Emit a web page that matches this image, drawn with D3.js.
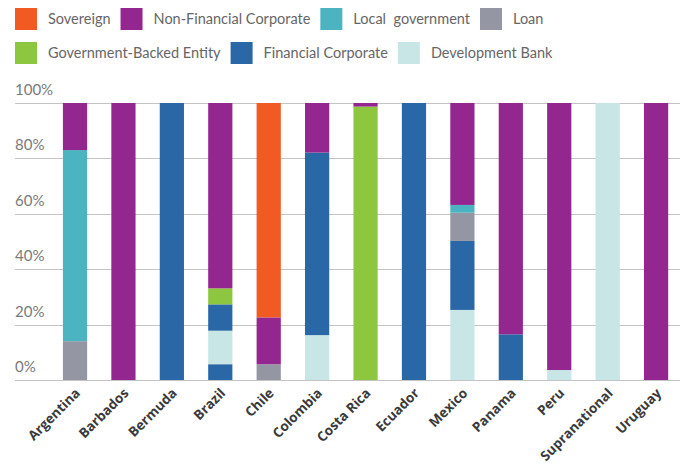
<!DOCTYPE html>
<html>
<head>
<meta charset="utf-8">
<script src="https://cdn.jsdelivr.net/npm/d3@7"></script>
<style>
  body { margin: 0; background: #fff; }
  svg { display: block; font-family: Lato, "Open Sans", sans-serif; }
</style>
</head>
<body>
<script>
// categories and stacked shares (%)
var countries = ["Argentina", "Barbados", "Bermuda", "Brazil", "Chile", "Colombia", "Costa Rica",
    "Ecuador", "Mexico", "Panama", "Peru", "Supranational", "Uruguay"];

var financialCorporateLower = [0, 0, 0, 5.7, 0, 0, 0, 0, 0, 0, 0, 0, 0];
var developmentBank = [0, 0, 0, 12.1, 0, 16.2, 0, 0, 25.3, 0, 3.6, 100, 0];
var financialCorporate = [0, 0, 100, 9.5, 0, 65.9, 0, 100, 24.9, 16.5, 0, 0, 0];
var loan = [14, 0, 0, 0, 5.7, 0, 0, 0, 10.2, 0, 0, 0, 0];
var localGovernment = [69, 0, 0, 0, 0, 0, 0, 0, 2.8, 0, 0, 0, 0];
var governmentBacked = [0, 0, 0, 5.8, 0, 0, 98.7, 0, 0, 0, 0, 0, 0];
var nonFinancialCorporate = [17, 100, 0, 66.9, 16.9, 17.9, 1.3, 0, 36.8, 83.5, 96.4, 0, 100];
var sovereign = [0, 0, 0, 0, 77.4, 0, 0, 0, 0, 0, 0, 0, 0];

var yTicks = [0, 20, 40, 60, 80, 100];

var legendRows = [
    ["Sovereign", "Non-Financial Corporate", "Local  government", "Loan"],
    ["Government-Backed Entity", "Financial Corporate", "Development Bank"]
];

function main() {
    var width = 680, height = 473;

    var colors = {
        "Sovereign": "#f15a22",
        "Non-Financial Corporate": "#93278f",
        "Local  government": "#4bb4c0",
        "Loan": "#9596a4",
        "Government-Backed Entity": "#8dc63f",
        "Financial Corporate": "#2a67a6",
        "Financial Corporate (lower)": "#2a67a6",
        "Development Bank": "#c9e6e6"
    };

    // stack order, bottom to top
    var series = [
        ["Financial Corporate (lower)", financialCorporateLower],
        ["Development Bank", developmentBank],
        ["Financial Corporate", financialCorporate],
        ["Loan", loan],
        ["Local  government", localGovernment],
        ["Government-Backed Entity", governmentBacked],
        ["Non-Financial Corporate", nonFinancialCorporate],
        ["Sovereign", sovereign]
    ];
    var keys = series.map(function (s) { return s[0]; });

    var table = countries.map(function (c, i) {
        var row = { country: c };
        series.forEach(function (s) { row[s[0]] = s[1][i]; });
        return row;
    });

    var svg = d3.select("body").append("svg")
        .attr("width", width)
        .attr("height", height);

    var x = d3.scaleBand()
        .domain(countries)
        .range([38.7, 692.4])
        .padding(0.5);

    var y = d3.scaleLinear()
        .domain([0, 100])
        .range([380, 103]);

    // gridlines + labels
    var grid = svg.append("g");
    grid.selectAll("line").data(yTicks).join("line")
        .attr("x1", 15).attr("x2", width)
        .attr("y1", function (d) { return Math.round(y(d)) + 0.5; })
        .attr("y2", function (d) { return Math.round(y(d)) + 0.5; })
        .attr("stroke", "#c4c4c4")
        .attr("stroke-width", 1);
    grid.selectAll("text").data(yTicks).join("text")
        .attr("x", 15)
        .attr("y", function (d) { return y(d) - 8; })
        .attr("font-size", 15)
        .attr("fill", "#7a7a7a")
        .text(function (d) { return d + "%"; });

    // stacked bars
    var stacked = d3.stack().keys(keys)(table);
    svg.append("g").selectAll("g").data(stacked).join("g")
        .attr("fill", function (d) { return colors[d.key]; })
        .selectAll("rect").data(function (d) { return d; }).join("rect")
        .attr("x", function (d) { return x(d.data.country); })
        .attr("width", x.bandwidth())
        .attr("y", function (d) { return y(d[1]); })
        .attr("height", function (d) { return y(d[0]) - y(d[1]); });

    // rotated category labels
    svg.append("g").selectAll("text").data(countries).join("text")
        .attr("transform", function (d) {
            return "translate(" + (x(d) + x.bandwidth() / 2 + 6) + ",394) rotate(-45)";
        })
        .attr("text-anchor", "end")
        .attr("font-family", "'Open Sans', sans-serif")
        .attr("font-size", 13.5)
        .attr("font-weight", 700)
        .attr("fill", "#3a3a3a")
        .text(function (d) { return d; });

    // legend, two rows flowing left to right
    var legend = svg.append("g");
    legendRows.forEach(function (row, r) {
        var cx = 15, top = 8 + r * 34;
        row.forEach(function (name) {
            legend.append("rect")
                .attr("x", cx).attr("y", top)
                .attr("width", 22).attr("height", 22)
                .attr("fill", colors[name]);
            var t = legend.append("text")
                .attr("x", cx + 33).attr("y", top + 16)
                .attr("font-size", 14.5)
                .attr("fill", "#666")
                .attr("xml:space", "preserve")
                .style("white-space", "pre")
                .text(name);
            cx += 33 + t.node().getComputedTextLength() + 10;
        });
    });
}

window.onload = main;
</script>
</body>
</html>
